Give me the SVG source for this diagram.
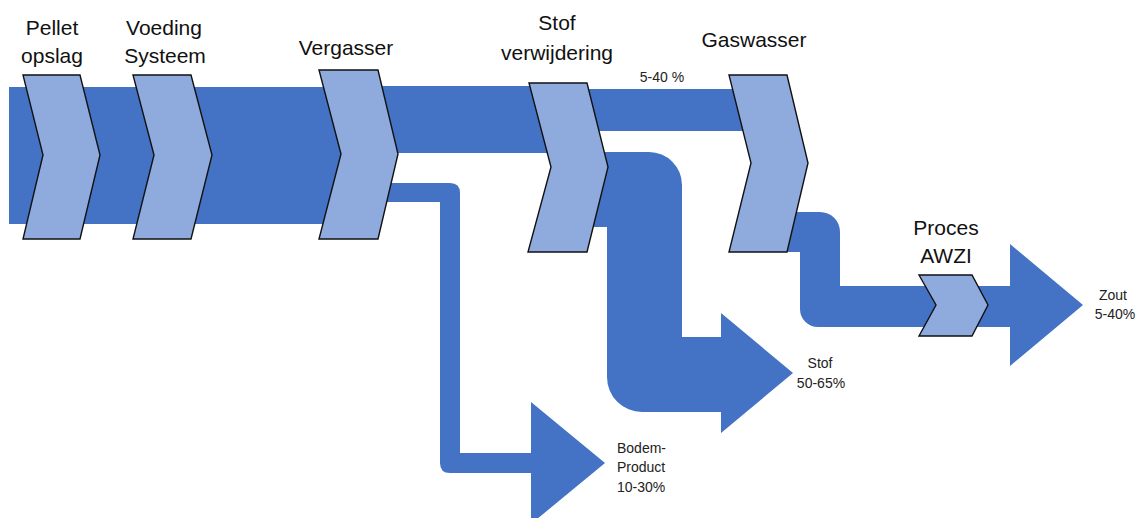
<svg xmlns="http://www.w3.org/2000/svg" width="1139" height="518" viewBox="0 0 1139 518">
<style>
.band{fill:#4472C4;stroke:none}
.chev{fill:#8FAADC;stroke:#111;stroke-width:1.4;stroke-linejoin:miter}
.lbl{font-family:"Liberation Sans",Arial,sans-serif;font-size:21px;fill:#111;text-anchor:middle}
.sm{font-family:"Liberation Sans",Arial,sans-serif;font-size:14px;fill:#222}
</style>
<rect width="1139" height="518" fill="#fff"/>
<g id="connectors">
<rect class="band" x="9" y="87" width="355" height="137"/>
<rect class="band" x="350" y="86" width="215" height="67"/>
<rect class="band" x="560" y="89" width="200" height="42"/>
<path class="band" d="M360 183 H450 Q460 183 460 193 V453 H531 V402 L605 463 L531 524 V473 H450 Q440 473 440 463 V202 H360 Z"/>
<path class="band" d="M580 152 H649 A33 33 0 0 1 682 185 V337 H721 V313 L793 373 L721 433 V412 H642 A35 35 0 0 1 607 377 V227 H580 Z"/>
<path class="band" d="M770 212 H820 A20 20 0 0 1 840 232 V286 H1010 V244 L1083 305 L1010 366 V327 H818 A18 18 0 0 1 800 309 V252 H770 Z"/>
</g>
<g id="pellet">
<polygon class="chev" points="23,75 80,75 100,155 80,239 23,239 43,155"/>
<text class="lbl" x="52" y="35">Pellet</text>
<text class="lbl" x="52" y="63">opslag</text>
</g>
<g id="voeding">
<polygon class="chev" points="133,75 191,75 212,155 191,239 133,239 154,155"/>
<text class="lbl" x="164" y="35">Voeding</text>
<text class="lbl" x="165" y="63">Systeem</text>
</g>
<g id="vergasser">
<polygon class="chev" points="319,70 378,70 398,154 378,239 319,239 341,154"/>
<text class="lbl" x="346" y="55">Vergasser</text>
</g>
<g id="stofverwijdering">
<polygon class="chev" points="529,83 587,83 608,167 587,252 528,252 551,167"/>
<text class="lbl" x="557" y="30">Stof</text>
<text class="lbl" x="557" y="60">verwijdering</text>
</g>
<g id="gaswasser">
<polygon class="chev" points="729,75 787,75 808,163 787,252 729,252 751,163"/>
<text class="lbl" x="754" y="47">Gaswasser</text>
</g>
<g id="awzi">
<polygon class="chev" points="919,275 972,275 988,305 972,336 919,336 936,305"/>
<text class="lbl" x="946" y="235">Proces</text>
<text class="lbl" x="946" y="263">AWZI</text>
</g>
<g id="labels">
<text class="sm" x="662" y="82" text-anchor="middle">5-40 %</text>
<text class="sm" x="1113" y="300" text-anchor="middle">Zout</text>
<text class="sm" x="1115" y="319" text-anchor="middle">5-40%</text>
<text class="sm" x="820" y="368" text-anchor="middle">Stof</text>
<text class="sm" x="821" y="388" text-anchor="middle">50-65%</text>
<text class="sm" x="617" y="453">Bodem-</text>
<text class="sm" x="617" y="472">Product</text>
<text class="sm" x="617" y="492">10-30%</text>
</g>
</svg>
